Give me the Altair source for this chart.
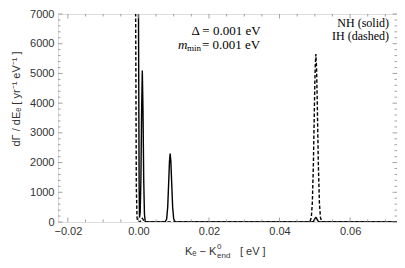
import altair as alt
import pandas as pd

# ---- data ----
nh_x = [-0.0228, -0.0003, 0.0000, 0.0002, 0.0003, 0.0005, 0.0007, 0.0009, 0.0011, 0.0013, 0.0015, 0.0017, 0.0019, 0.0021,
        0.0076, 0.0080, 0.0083, 0.0086, 0.0088, 0.0090, 0.0092, 0.0094, 0.0097, 0.0100, 0.0104,
        0.0492, 0.0496, 0.0499, 0.0501, 0.0503, 0.0505, 0.0507, 0.0510, 0.0514, 0.0733]
nh_y = [40000, 40000, 7500, 1200, 150, 330, 1420, 3700, 5100, 3700, 1420, 285, 30, 0,
        5, 100, 500, 1400, 2030, 2300, 2030, 1400, 500, 100, 5,
        0, 20, 78, 128, 150, 128, 78, 20, 0, 0]

ih_x = [-0.0228, -0.0011, -0.0008, -0.0006, -0.0004, -0.0002, 0.0000, 0.0003, 0.0006, 0.0008, 0.0011, 0.0014, 0.0016, 0.0019,
        0.0482, 0.0486, 0.0490, 0.0493, 0.0496, 0.0499, 0.0501, 0.0503, 0.0505, 0.0507, 0.0510, 0.0513, 0.0516, 0.0520, 0.0524,
        0.0733]
ih_y = [40000, 40000, 7500, 1200, 150, 20, 0, 0, 30, 73, 120, 73, 30, 0,
        0, 11, 144, 645, 1950, 3990, 5180, 5650, 5180, 3990, 1950, 645, 144, 11, 0,
        0]

x_major = [-0.02, 0.0, 0.02, 0.04, 0.06]
x_minor = [-0.015, -0.01, -0.005, 0.005, 0.01, 0.015, 0.025, 0.03, 0.035, 0.045, 0.05, 0.055, 0.065, 0.07]
y_major = [0, 1000, 2000, 3000, 4000, 5000, 6000, 7000]
y_minor = [200, 400, 600, 800, 1200, 1400, 1600, 1800, 2200, 2400, 2600, 2800, 3200, 3400, 3600, 3800,
           4200, 4400, 4600, 4800, 5200, 5400, 5600, 5800, 6200, 6400, 6600, 6800]

X_DOMAIN = [-0.0228, 0.0733]
Y_DOMAIN = [0, 7000]
W, H = 339, 208

df = pd.concat([
    pd.DataFrame({"x": nh_x, "y": nh_y, "s": "NH", "o": range(len(nh_x))}),
    pd.DataFrame({"x": ih_x, "y": ih_y, "s": "IH", "o": range(len(ih_x))}),
])

xs = alt.Scale(domain=X_DOMAIN, nice=False, zero=False)
ys = alt.Scale(domain=Y_DOMAIN, nice=False, zero=False)

FRAME = "#8a8a8a"
LBL = "#333333"

XAX = alt.Axis(values=x_major, format=".2f", ticks=False, domain=False, grid=False,
               labelFont="Liberation Sans", labelFontSize=11, labelColor=LBL,
               labelOverlap=False, labelPadding=3, title=None)
YAX = alt.Axis(values=y_major, format="d", ticks=False, domain=False, grid=False,
               labelFont="Liberation Sans", labelFontSize=11, labelColor=LBL,
               labelOverlap=False, labelPadding=4, title=None)

lines = alt.Chart(df).mark_line(clip=True, color="black", strokeWidth=1.4).encode(
    x=alt.X("x:Q", scale=xs, axis=XAX),
    y=alt.Y("y:Q", scale=ys, axis=YAX),
    detail="s:N",
    order="o:Q",
    strokeDash=alt.StrokeDash("s:N", scale=alt.Scale(domain=["NH", "IH"], range=[[1, 0], [3.5, 2]]), legend=None),
)

xmaj = pd.DataFrame({"x": x_major})
xmin = pd.DataFrame({"x": x_minor})
ymaj = pd.DataFrame({"y": y_major})
ymin = pd.DataFrame({"y": y_minor})

def xticks(d, L):
    b = alt.Chart(d).mark_rule(color=FRAME, strokeWidth=0.8).encode(
        x=alt.X("x:Q", scale=xs, axis=XAX), y=alt.value(H), y2=alt.value(H - L))
    t = alt.Chart(d).mark_rule(color=FRAME, strokeWidth=0.8).encode(
        x=alt.X("x:Q", scale=xs, axis=XAX), y=alt.value(0), y2=alt.value(L))
    return b + t

def yticks(d, L):
    l = alt.Chart(d).mark_rule(color=FRAME, strokeWidth=0.8).encode(
        y=alt.Y("y:Q", scale=ys, axis=YAX), x=alt.value(0), x2=alt.value(L))
    r = alt.Chart(d).mark_rule(color=FRAME, strokeWidth=0.8).encode(
        y=alt.Y("y:Q", scale=ys, axis=YAX), x=alt.value(W), x2=alt.value(W - L))
    return l + r

ticks = xticks(xmaj, 4.5) + xticks(xmin, 2.5) + yticks(ymaj, 4.5) + yticks(ymin, 2.5)

def txt(s, x, y, size=11, font="Liberation Sans", align="left", style="normal", angle=0, color=LBL, baseline="middle"):
    return alt.Chart(pd.DataFrame({"t": [s]})).mark_text(
        font=font, fontSize=size, align=align, baseline=baseline, fontStyle=style, angle=angle, color=color
    ).encode(text="t:N", x=alt.value(x), y=alt.value(y))

texts = (
    txt("dΓ / dEₑ   [ yr⁻¹ eV⁻¹ ]", -41, 85, size=11, align="center", angle=270)
    + txt("Kₑ − K", 127, 238)
    + txt("0", 159, 233, size=8)
    + txt("end", 159, 242, size=8)
    + txt("[ eV ]", 182, 238)
    + txt("Δ = 0.001 eV", 168, 17, size=13, font="Liberation Serif", align="center", color="black")
    + txt("m", 120, 31, size=13, font="Liberation Serif", style="italic", color="black")
    + txt("min", 129, 34, size=9, font="Liberation Serif", color="black")
    + txt("= 0.001 eV", 144, 31, size=13, font="Liberation Serif", color="black")
    + txt("NH (solid)", 331, 9, size=12, font="Liberation Serif", align="right", color="black")
    + txt("IH (dashed)", 331, 22, size=12, font="Liberation Serif", align="right", color="black")
)

chart = (lines + ticks + texts).properties(
    width=W, height=H,
    autosize=alt.AutoSizeParams(type="none"),
    padding={"left": 50, "top": 6, "right": 0, "bottom": 38},
).configure_view(stroke=FRAME, strokeWidth=1).configure(background="white")

chart.save("out.html", embed_options={"renderer": "svg", "actions": False})
